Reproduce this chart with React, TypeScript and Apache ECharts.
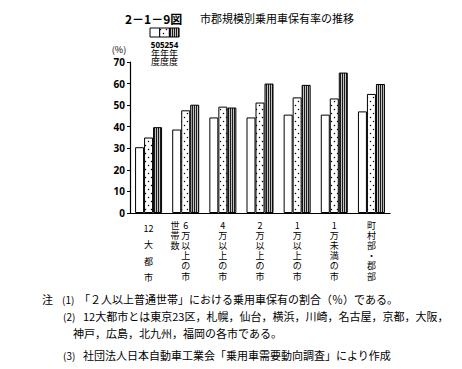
import React, { useEffect, useRef } from "react";
import * as echarts from "echarts";

const categories = ["12大都市", "6万以上の市", "4万以上の市", "2万以上の市", "1万以上の市", "1万未満の市", "町村部・郡部"];
const seriesNames = ["50年度", "52年度", "54年度"];
const y50 = [30.5, 38.7, 44.3, 44.3, 45.6, 45.6, 47.1];
const y52 = [35.0, 47.6, 49.3, 51.2, 53.6, 53.1, 55.2];
const y54 = [39.8, 50.2, 48.9, 60.0, 59.4, 65.1, 59.8];
const yTicks = { min: 0, max: 70, interval: 10 };
const legendYears = ["50", "52", "54"];
const title1 = "2－1－9図";
const title2 = "市郡規模別乗用車保有率の推移";
const noteLines = [
  { num: "(1)", nx: 62, text: "「２人以上普通世帯」における乗用車保有の割合（％）である。", tx: 79, y: 299 },
  { num: "(2)", nx: 63, text: "12大都市とは東京23区，札幌，仙台，横浜，川崎，名古屋，京都，大阪，", tx: 83, y: 316 },
  { num: "", nx: 63, text: "神戸，広島，北九州，福岡の各市である。", tx: 73, y: 333 },
  { num: "(3)", nx: 63, text: "社団法人日本自動車工業会「乗用車需要動向調査」により作成", tx: 83, y: 355 },
];

const CJK = '"Noto Sans CJK JP", "Noto Sans", sans-serif';

function splitVertical(s: string): string[] {
  const out: string[] = [];
  let i = 0;
  while (i < s.length) {
    if (/[0-9]/.test(s[i])) {
      let j = i;
      while (j < s.length && /[0-9]/.test(s[j])) j++;
      out.push(s.slice(i, j));
      i = j;
    } else {
      out.push(s[i]);
      i++;
    }
  }
  return out;
}

function makeTile(kind: string) {
  const c = document.createElement("canvas");
  if (kind === "dots") {
    c.width = 6; c.height = 8;
    const g = c.getContext("2d")!;
    g.fillStyle = "#fff"; g.fillRect(0, 0, 6, 8);
    g.fillStyle = "#000";
    g.beginPath(); g.arc(1.5, 1.5, 0.75, 0, Math.PI * 2); g.fill();
    g.beginPath(); g.arc(4.5, 5.5, 0.75, 0, Math.PI * 2); g.fill();
  } else {
    c.width = 2; c.height = 2;
    const g = c.getContext("2d")!;
    g.fillStyle = "#1a1a1a"; g.fillRect(0, 0, 1, 2);
    g.fillStyle = "#c4c4c4"; g.fillRect(1, 0, 1, 2);
  }
  return { image: c.toDataURL(), repeat: "repeat", imageWidth: c.width, imageHeight: c.height } as any;
}

export default function App() {
  const ref = useRef<HTMLDivElement>(null);
  useEffect(() => {
    const chart = echarts.init(ref.current!, null, { renderer: "svg" });
    const dots = makeTile("dots");
    const stripes = makeTile("stripes");
    const fills: any[] = ["#fff", dots, stripes];
    const datasets = [y50, y52, y54];

    const graphics: any[] = [];
    graphics.push({
      type: "text", x: 125, y: 18,
      style: { text: title1, font: `bold 12px ${CJK}`, fill: "#000", verticalAlign: "middle" },
    });
    graphics.push({
      type: "text", x: 200, y: 18,
      style: { text: title2, font: `11px ${CJK}`, fill: "#000", verticalAlign: "middle" },
    });
    // legend
    const lx = 150, lw = 9.7;
    legendYears.forEach((yr, i) => {
      graphics.push({
        type: "rect", shape: { x: lx + i * lw, y: 28, width: lw, height: 9 },
        style: { fill: fills[i], stroke: "#000", lineWidth: 1 },
      });
    });
    graphics.push({
      type: "text", x: lx + 1.5 * lw, y: 40.5,
      style: {
        text: `{n|${legendYears.join("")}}\n{c|${legendYears.map(() => "年").join("")}}\n{c|${legendYears.map(() => "度").join("")}}`,
        align: "center", verticalAlign: "top",
        rich: {
          n: { fontSize: 8, fontWeight: "bold", fontFamily: '"Noto Sans", sans-serif', lineHeight: 8.5, fill: "#000" },
          c: { fontSize: 9, fontFamily: CJK, lineHeight: 8.5, fill: "#000" },
        },
      },
    });
    graphics.push({
      type: "text", x: 119, y: 49,
      style: { text: "(%)", font: `9px ${CJK}`, fill: "#000", align: "center", verticalAlign: "middle" },
    });
    graphics.push({
      type: "text", x: 175, y: 220,
      style: { text: "世\n帯\n数", font: `9px ${CJK}`, lineHeight: 10.2, fill: "#000", align: "center", verticalAlign: "top" },
    });
    graphics.push({
      type: "text", x: 42, y: 299,
      style: { text: "注", font: `11px ${CJK}`, fill: "#000", verticalAlign: "middle" },
    });
    noteLines.forEach((l) => {
      if (l.num) {
        graphics.push({
          type: "text", x: l.nx, y: l.y,
          style: { text: l.num, font: `10px ${CJK}`, fill: "#000", verticalAlign: "middle" },
        });
      }
      graphics.push({
        type: "text", x: l.tx, y: l.y,
        style: { text: l.text, font: `11px ${CJK}`, fill: "#000", verticalAlign: "middle" },
      });
    });

    chart.setOption({
      animation: false,
      grid: { left: 130, right: 72, top: 62, bottom: 156, containLabel: false },
      xAxis: {
        type: "category",
        data: categories,
        axisLine: { lineStyle: { color: "#000", width: 1.2 } },
        axisTick: { show: false },
        axisLabel: {
          interval: 0,
          margin: 7,
          color: "#000",
          formatter: (v: string, idx: number) => {
            const parts = splitVertical(v);
            const st = idx === 0 ? "w" : "n";
            return parts.map((p) => `{${st}|${p}}`).join("\n");
          },
          rich: {
            n: { fontSize: 9, lineHeight: 10.2, fontFamily: CJK, color: "#000" },
            w: { fontSize: 9, lineHeight: 16.5, fontFamily: CJK, color: "#000" },
          },
        },
      },
      yAxis: {
        type: "value",
        min: yTicks.min, max: yTicks.max, interval: yTicks.interval,
        axisLine: { show: true, lineStyle: { color: "#000", width: 1.2 } },
        axisTick: { show: true, length: 3, lineStyle: { color: "#000" } },
        splitLine: { show: false },
        axisLabel: { color: "#000", fontSize: 10, fontWeight: "bold", fontFamily: '"Noto Sans", sans-serif', margin: 5 },
      },
      series: seriesNames.map((name, i) => ({
        name,
        type: "bar",
        data: datasets[i],
        barWidth: 9,
        barGap: "0%",
        itemStyle: { color: fills[i], borderColor: "#000", borderWidth: 1 },
      })),
      graphic: graphics,
    });
    return () => chart.dispose();
  }, []);
  return <div ref={ref} style={{ width: 462, height: 369, position: "absolute", left: 0, top: 0, background: "#fff" }} />;
}
